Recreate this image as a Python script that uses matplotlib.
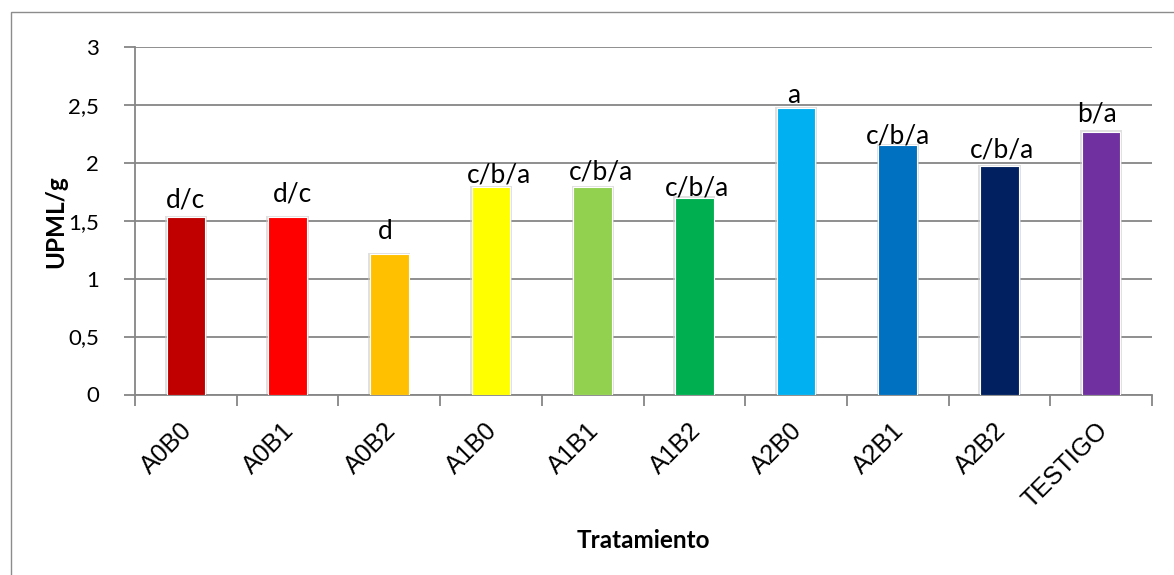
import matplotlib
matplotlib.use("Agg")
import matplotlib.pyplot as plt
import matplotlib.transforms as mtransforms
from matplotlib.patches import Rectangle

# Treatments, measured values and significance groups
tratamientos = ["A0B0", "A0B1", "A0B2", "A1B0", "A1B1", "A1B2",
                "A2B0", "A2B1", "A2B2", "TESTIGO"]
upml_g = [1.53, 1.53, 1.21, 1.79, 1.79, 1.70, 2.47, 2.15, 1.97, 2.27]
grupos = ["d/c", "d/c", "d", "c/b/a", "c/b/a", "c/b/a",
          "a", "c/b/a", "c/b/a", "b/a"]
y_ticks = [0, 0.5, 1, 1.5, 2, 2.5, 3]
y_tick_labels = ["0", "0,5", "1", "1,5", "2", "2,5", "3"]

colores = ["#C00000", "#FF0000", "#FFC000", "#FFFF00", "#92D050",
           "#00B050", "#00B0F0", "#0070C0", "#002060", "#7030A0"]

# label nudges (pixels): horizontal shift and gap above the bar top
label_dx = [0, 5, -4, 8, 8, 3, -2, 0, 3, -4.5]
label_gap = [10, 15.6, 15.7, 4.3, 7.7, 2.3, 5.7, 1.7, 8.7, 10]

W, H, DPI = 1174, 575, 100
fig = plt.figure(figsize=(W / DPI, H / DPI), dpi=DPI)
fig.patch.set_facecolor("white")

# chart-area frame
frame = Rectangle((10.7 / W, -0.05), 1.2, (H - 12) / H + 0.05,
                  transform=fig.transFigure, fill=False,
                  edgecolor="#8c8c8c", linewidth=1.0, zorder=0)
fig.patches.append(frame)

left, right = 135 / W, 1152 / W
bottom, top = (H - 394.5) / H, (H - 47) / H
ax = fig.add_axes([left, bottom, right - left, top - bottom])

grid_col = "#868686"
x = list(range(len(tratamientos)))
bar_w = 0.38

# soft shadow behind each bar
ax.bar(x, [v + 0.012 for v in upml_g], width=bar_w + 0.035,
       color="#c8c8c8", alpha=0.55, zorder=2, linewidth=0)
ax.bar(x, upml_g, width=bar_w, color=colores, edgecolor="white",
       linewidth=0.8, zorder=3)

ax.set_xlim(-0.5, len(tratamientos) - 0.5)
ax.set_ylim(0, 3)

ax.set_yticks(y_ticks)
ax.set_yticklabels(y_tick_labels, fontfamily="Lato", fontsize=16)
ax.yaxis.grid(True, color=grid_col, linewidth=1.3, zorder=1)
ax.set_axisbelow(True)

ax.set_xticks(x)
ax.set_xticklabels(tratamientos, rotation=45, ha="right", va="top",
                   rotation_mode="anchor", fontfamily="Liberation Sans",
                   fontsize=18)
ax.set_xticks([i - 0.5 for i in range(len(tratamientos) + 1)], minor=True)
ax.tick_params(axis="x", which="major", length=0, pad=17)
ax.tick_params(axis="x", which="minor", length=8, width=1.3,
               color=grid_col, direction="out")
ax.tick_params(axis="y", length=8, width=1.3, color=grid_col,
               direction="out", pad=18)

shift = mtransforms.ScaledTranslation(-6 / DPI, 0, fig.dpi_scale_trans)
for lbl in ax.get_xticklabels():
    lbl.set_transform(lbl.get_transform() + shift)

for side in ("top", "right"):
    ax.spines[side].set_visible(False)
for side in ("left", "bottom"):
    ax.spines[side].set_color(grid_col)
    ax.spines[side].set_linewidth(1.3)

for xi, v, g, dx, gap in zip(x, upml_g, grupos, label_dx, label_gap):
    ax.annotate(g, (xi, v), xytext=(dx * 0.72, gap * 0.72),
                textcoords="offset points", ha="center", va="baseline",
                fontfamily="Lato", fontsize=19, color="black", zorder=5)

fig.text((135 + 1152) / 2 / W, 1 - 541 / H, "Tratamiento",
         ha="center", va="center", fontfamily="Lato",
         fontweight="bold", fontsize=17.5)
fig.text(56 / W, 1 - 222 / H, "UPML/g", ha="center", va="center",
         rotation=90, fontfamily="Lato", fontweight="bold", fontsize=17.5)

fig.savefig("out.png", dpi=DPI, facecolor="white")
